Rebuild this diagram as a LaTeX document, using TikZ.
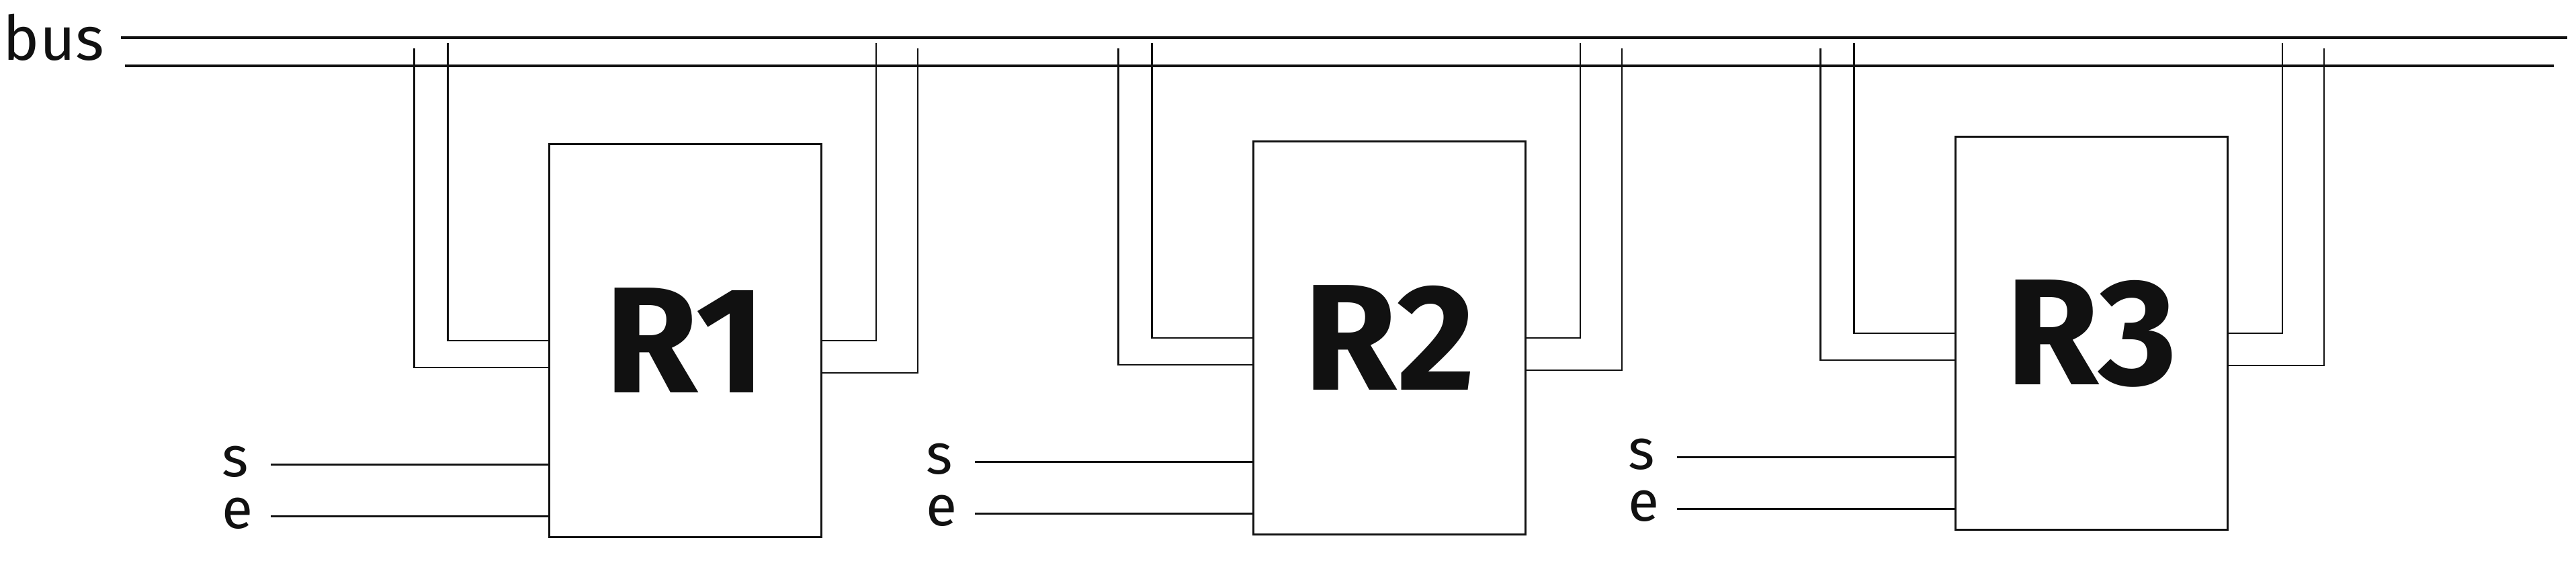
\documentclass[tikz,border=0pt]{standalone}
\usepackage{fontspec}
\setmainfont{Fira Sans}
\usepackage{tikz}
\usetikzlibrary{calc,positioning}
\definecolor{ink}{HTML}{111111}

\begin{document}
\begin{tikzpicture}[x=1cm,y=1cm,line width=0.8pt,
  reg/.style={draw=ink,minimum width=4.05cm,minimum height=5.85cm,inner sep=0pt,text=ink,font=\fontsize{64}{64}\selectfont\bfseries},
  tag/.style={text=ink,inner sep=0pt,font=\fontsize{24}{24}\selectfont},
  wire/.style={draw=ink,line width=0.8pt},
  busline/.style={draw=ink,line width=1.1pt}]
\useasboundingbox (0,0) rectangle (38.34,8.34);
% --- the bus
\node[tag,anchor=base,font=\fontsize{26}{26}\selectfont] (bus) at (0.80,7.44) {bus};
\coordinate (bushi) at (1.80,7.78);
\coordinate (bushiend) at (38.21,7.78);
\coordinate (buslo) at (1.86,7.36);
\coordinate (busloend) at (38.01,7.36);
\draw[busline] (bushi) -- (bushiend);
\draw[busline] (buslo) -- (busloend);
\coordinate (tapin) at (0,7.70);
\coordinate (tapout) at (0,7.62);
% --- the three registers
\foreach \n/\x/\y in {1/10.20/3.27,2/20.68/3.31,3/31.13/3.38} {
  \node[reg] (R\n) at (\x,\y) {R\n};
  % taps down from the bus
  \path (R\n.west) ++(-1.5,0) coordinate (li\n) ++(-0.5,-0.4) coordinate (lo\n);
  \path (R\n.east) ++(0.8,0) coordinate (ri\n) ++(0.62,-0.48) coordinate (ro\n);
  \draw[wire] (li\n |- tapin) -- (li\n) -- (R\n.west);
  \draw[wire] (lo\n |- tapout) -- (lo\n) -- (R\n.west |- lo\n);
  \draw[wire] (ri\n |- tapin) -- (ri\n) -- (R\n.east);
  \draw[wire] (ro\n |- tapout) -- (ro\n) -- (R\n.east |- ro\n);
  % s and e inputs
  \draw[wire] ([yshift=-1.845cm]R\n.west) -- ++(-4.13,0) coordinate (sfree\n);
  \draw[wire] ([yshift=-2.615cm]R\n.west) -- ++(-4.13,0) coordinate (efree\n);
  \node[tag,anchor=mid west] (s\n) at ([xshift=-0.74cm,yshift=-0.09cm]sfree\n) {s};
  \node[tag,anchor=mid west] (e\n) at ([xshift=-0.74cm,yshift=-0.09cm]efree\n) {e};
}
\end{tikzpicture}
\end{document}
